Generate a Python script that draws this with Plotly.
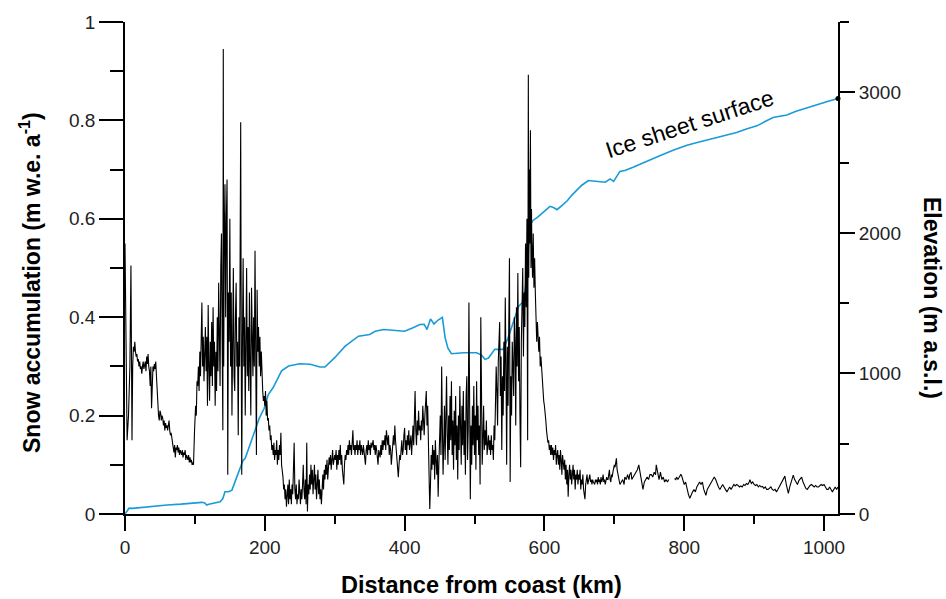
import plotly.graph_objects as go

# ---- Snow accumulation (m w.e. a^-1) along traverse ----
acc_km = [0,1.5,3,5,7,8.5,10,11,12,13,14,15,16,17,18,19,20,21,22,23,24,25,26,27,28,29,30,31,32,33,34,35,36,37,38,39,40,
41,42,43,44,45,46,47,48,49,50,51,52,53,54,55,56,57,58,59,60,61,62,63,64,65,66,67,68,69,70,71,72,73,74,75,76,77,78,79,80,
81,82,83,84,85,86,87,88,89,90,91,92,93,94,95,96,97,98,99.5,101,102,103,104,105,106,107,108,109,110,111,112,113,114,115,116,117,118,119,120,
121,122,123,124,125,126,127,128,129,130,131,132,133,134,135,136,137,138,139,140,140.6,141.2,142,143,144,145,146,147,148,149,150,
151,152,153,154,155,156,157,158,159,160,161,162,163,164,165.5,166.5,167,168,169,170,171,172,173,174,175,176,177,178,179,180,
181,182,183,184,185,186,187,188,189,190,191,192,193,194,195,196,197,198,199,200,201,202,203,204,205,206,207,208,209,210,
211,212,213,214,215,216,217,218,219,220,221,222,223,224,225,226,227,228,229,230,231,232,233,234,235,236,237,238,239,240,
241,242,243,244,245,246,247,248,249,250,251,252,253,254,255,256,257,258,259,260,261,262,263,264,265,266,267,268,269,270,
271,272,273,274,275,276,277,278,279,280,281,282,283,284,285,286,287,288,289,290,291,292,293,294,295,296,297,298,299,300,
301,302,303,304,305,306,307,308,309,310,311,312,313,314,315,316,317,318,319,320,321,322,323,324,325,326,327,328,329,330,
331,332,333,334,335,336,337,338,339,340,341,342,343,344,345,346,347,348,349,350,351,352,353,354,355,356,357,358,359,360,
361,362,363,364,365,366,367,368,369,370,371,372,373,374,375,376,377,378,379,380,381,382,383,384,385,386,387,388,389,390,
391,392,393,394,395,396,397,398,399,400,401,402,403,404,405,406,407,408,409,410,411,412,413,414,415,416,417,418,419,420,
421,422,423,424,425,426,427,428,429,430,431,432,433,434,435,436,437,438,439,440,441,442,443,444,445,446,447,448,449,450,
451,452,453,454,455,456,457,458,459,460,461,462,463,464,465,466,467,468,469,470,471,472,473,474,475,476,477,478,479,480,
481,482,483,484,485,486,487,488,489,490,491,492,493,494,495,496,497,498,499,500,501,502,503,504,505,506,507,508,509,510,
511,512,513,514,515,516,517,518,519,520,521,522,523,524,525,526,527,528,529,530,531,532,533,534,535,536,537,538,539,540,
541,542,543,544,545,546,547,548,549,550,551,552,553,554,555,556,557,558,559,560,561,562,563,564,565,566,567,568,569,570,
571,572,573,574,575,576,577,577.6,578.3,579,580,580.8,581.5,582,583,584,585,586,587,588,589,590,591,592,593,594,595,596,597,598,599,600,
601,602,603,604,605,606,607,608,609,610,611,612,613,614,615,616,617,618,619,620,621,622,623,624,625,626,627,628,629,630,
631,632,633,634,635,636,637,638,639,640,641,642,643,644,645,646,647,648,649,650,651,652,653,654,655,656,657,658,659,660,
661,662,663,664,665,666,667,668,669,670,671,672,673,674,675,676,677,678,679,680,681,682,683,684,685,686,687,688,689,690,
691,692,693,694,695,696,697,698,699,700,701,702,703,704,705,706,707,708,710,712,714,715,717,719,721,722,724,725,727,729,
731,733,735,737,739,741,743,745,747,749,751,753,755,757,759,760,762,764,766,768,770,772,774,776,778,782,
786,788,789,791,793,795,796,798,800,802,804,806,808,810,812,814,816,818,820,822,824,826,828,830,831,833,835,837,839,841,
843,845,847,849,851,853,855,857,859,861,863,865,867,869,871,873,875,877,879,881,883,885,887,889,891,893,894,896,898,900,
902,904,906,908,910,912,914,916,918,920,922,924,926,928,930,932,934,936,938,940,942,944,946,948,949,951,953,955,956,958,
960,962,964,966,968,970,972,974,976,978,980,982,984,986,988,990,992,994,996,998,1000,1002,1004,1006,1008,1010,1012,1014,1016,1018,1020]

acc_val = [0.55,0.35,0.15,0.20,0.30,0.505,0.15,0.30,0.34,0.33,0.35,0.33,0.32,0.325,0.31,0.315,0.30,0.31,0.295,0.30,0.285,0.30,0.31,0.295,0.30,0.31,0.29,0.32,0.305,0.325,0.30,0.29,0.26,0.30,0.215,0.28,0.30,
0.29,0.305,0.295,0.31,0.28,0.24,0.22,0.20,0.19,0.21,0.205,0.19,0.20,0.195,0.18,0.19,0.17,0.185,0.175,0.18,0.17,0.185,0.19,0.17,0.16,0.165,0.155,0.14,0.13,0.125,0.14,0.115,0.135,0.13,0.14,0.125,0.135,0.12,0.13,0.125,
0.12,0.13,0.115,0.125,0.12,0.13,0.11,0.12,0.115,0.11,0.12,0.105,0.115,0.105,0.11,0.10,0.105,0.10,0.17,0.22,0.20,0.27,0.26,0.30,0.25,0.33,0.28,0.38,0.43,0.30,0.36,0.27,0.32,0.38,0.29,0.36,0.22,0.425,0.30,
0.23,0.35,0.28,0.39,0.26,0.42,0.30,0.35,0.22,0.33,0.25,0.40,0.29,0.47,0.32,0.26,0.50,0.57,0.35,0.17,0.945,0.30,0.55,0.67,0.40,0.60,0.68,0.08,0.45,0.35,0.60,
0.30,0.45,0.20,0.40,0.50,0.28,0.25,0.40,0.47,0.30,0.35,0.16,0.40,0.30,0.796,0.25,0.08,0.35,0.52,0.30,0.40,0.20,0.35,0.50,0.28,0.38,0.25,0.45,0.30,0.20,
0.46,0.35,0.28,0.40,0.30,0.535,0.20,0.12,0.456,0.33,0.38,0.30,0.36,0.28,0.33,0.27,0.25,0.23,0.24,0.22,0.25,0.20,0.23,0.19,0.195,0.17,0.18,0.15,0.16,0.13,
0.14,0.12,0.145,0.11,0.13,0.12,0.15,0.10,0.13,0.11,0.14,0.12,0.165,0.10,0.09,0.075,0.05,0.06,0.03,0.05,0.015,0.04,0.06,0.02,0.07,0.03,0.05,0.02,0.06,0.04,
0.08,0.145,0.05,0.03,0.06,0.02,0.04,0.03,0.07,0.04,0.02,0.05,0.03,0.06,0.10,0.05,0.03,0.07,0.02,0.145,0.005,0.06,0.04,0.08,0.05,0.10,0.06,0.09,0.04,0.07,
0.10,0.05,0.08,0.03,0.06,0.09,0.04,0.07,0.03,0.05,0.02,0.06,0.08,0.05,0.09,0.07,0.10,0.08,0.11,0.07,0.09,0.115,0.10,0.12,0.09,0.11,0.13,0.10,0.12,0.12,
0.11,0.13,0.09,0.12,0.10,0.13,0.11,0.14,0.10,0.12,0.09,0.08,0.06,0.10,0.12,0.11,0.13,0.12,0.14,0.12,0.15,0.13,0.14,0.12,0.15,0.17,0.13,0.14,0.12,0.14,
0.13,0.15,0.12,0.14,0.13,0.15,0.12,0.14,0.13,0.12,0.14,0.13,0.12,0.10,0.13,0.14,0.12,0.15,0.13,0.14,0.12,0.145,0.135,0.14,0.15,0.13,0.14,0.12,0.14,0.13,
0.12,0.10,0.13,0.12,0.115,0.14,0.12,0.15,0.13,0.15,0.14,0.16,0.13,0.17,0.15,0.14,0.16,0.12,0.14,0.13,0.10,0.12,0.15,0.16,0.14,0.18,0.15,0.13,0.11,0.09,
0.075,0.10,0.12,0.11,0.13,0.15,0.12,0.13,0.16,0.175,0.13,0.15,0.12,0.16,0.14,0.17,0.13,0.14,0.16,0.12,0.15,0.18,0.14,0.20,0.25,0.17,0.14,0.19,0.16,0.21,
0.17,0.18,0.15,0.19,0.17,0.22,0.19,0.16,0.20,0.23,0.25,0.18,0.22,0.15,0.08,0.01,0.06,0.12,0.09,0.14,0.10,0.13,0.07,0.15,0.11,0.08,0.12,0.035,0.10,0.15,
0.20,0.12,0.30,0.18,0.08,0.14,0.22,0.11,0.18,0.28,0.16,0.10,0.20,0.13,0.24,0.15,0.27,0.12,0.19,0.09,0.21,0.14,0.24,0.11,0.18,0.07,0.20,0.13,0.26,0.16,
0.10,0.22,0.14,0.25,0.12,0.19,0.08,0.24,0.28,0.11,0.17,0.43,0.15,0.03,0.18,0.10,0.22,0.14,0.26,0.12,0.20,0.09,0.27,0.15,0.22,0.12,0.18,0.06,0.40,0.18,
0.10,0.15,0.22,0.13,0.17,0.14,0.19,0.12,0.14,0.16,0.13,0.15,0.12,0.16,0.13,0.14,0.11,0.18,0.15,0.22,0.30,0.25,0.18,0.31,0.375,0.39,0.24,0.32,0.13,0.28,
0.20,0.35,0.25,0.44,0.30,0.10,0.34,0.22,0.38,0.52,0.065,0.28,0.20,0.35,0.30,0.24,0.40,0.35,0.18,0.42,0.30,0.49,0.27,0.38,0.20,0.095,0.35,0.44,0.50,0.32,
0.45,0.38,0.55,0.42,0.60,0.15,0.893,0.48,0.70,0.55,0.78,0.50,0.62,0.55,0.48,0.57,0.46,0.52,0.45,0.40,0.35,0.39,0.37,0.33,0.36,0.30,0.32,0.29,0.27,0.25,0.23,0.22,
0.21,0.19,0.17,0.16,0.145,0.15,0.13,0.14,0.12,0.14,0.12,0.135,0.11,0.13,0.12,0.14,0.10,0.12,0.13,0.10,0.12,0.09,0.13,0.11,0.08,0.12,0.10,0.09,0.11,0.07,
0.10,0.06,0.09,0.035,0.08,0.10,0.07,0.09,0.06,0.08,0.10,0.07,0.09,0.05,0.08,0.07,0.09,0.06,0.08,0.07,0.09,0.05,0.07,0.06,0.08,0.05,0.04,0.03,0.06,0.07,
0.08,0.06,0.07,0.08,0.08,0.065,0.07,0.06,0.07,0.065,0.06,0.06,0.07,0.065,0.07,0.06,0.075,0.065,0.07,0.06,0.075,0.065,0.07,0.08,0.065,0.07,0.06,0.065,0.075,0.07,
0.07,0.08,0.09,0.07,0.065,0.08,0.075,0.085,0.09,0.10,0.095,0.105,0.113,0.09,0.08,0.07,0.065,0.06,0.065,0.07,0.06,0.075,0.07,0.08,0.07,0.08,0.085,0.07,0.075,0.08,
0.085,0.09,0.10,0.085,0.07,0.05,0.065,0.07,0.075,0.07,0.08,0.08,0.075,0.085,0.08,0.10,0.08,0.07,0.085,0.07,0.075,0.065,0.07,0.065,0.07,None,
0.072,0.07,0.075,0.07,0.075,0.08,0.079,0.07,0.06,0.065,0.05,0.04,0.032,0.04,0.045,0.05,0.045,0.055,0.06,0.065,0.06,0.065,0.05,0.04,0.038,0.05,0.055,0.06,0.065,0.07,
0.075,0.07,0.06,0.055,0.05,0.055,0.06,0.055,0.05,0.045,0.05,0.055,0.05,0.055,0.06,0.057,0.06,0.058,0.055,0.057,0.055,0.06,0.058,0.062,0.06,0.065,0.07,0.062,0.065,0.06,
0.058,0.06,0.055,0.058,0.055,0.056,0.052,0.055,0.05,0.05,0.052,0.055,0.05,0.048,0.05,0.045,0.05,0.055,0.06,0.065,0.07,0.077,0.06,0.045,0.042,0.055,0.065,0.072,0.079,0.07,
0.065,0.06,0.068,0.072,0.075,0.065,0.058,0.052,0.05,0.055,0.058,0.06,0.057,0.055,0.058,0.055,0.055,0.058,0.06,0.058,0.06,0.055,0.05,0.05,0.055,0.05,0.045,0.05,0.055,0.05,0.055]

# ---- Ice sheet surface elevation (m a.s.l.) ----
elev_km = [0,3,6,11,30,60,80,98,110,114,117,120,130,136,140,143,148,153,160,169,172,184,192,199,205,212,219,224,234,250,265,279,286,
300,315,334,350,358,370,385,400,412,422,428,432,437,442,448,454,458,462,467,484,503,510,515,520,529,541,548,556,563,570,575,579,
584,590,596,602,608,613,618,627,633,639,646,653,663,675,687,694,699,708,715,726,737,750,765,785,804,820,837,855,875,890,904,915,
927,937,947,960,975,990,1005,1020]
elev_val = [0,25,42,40,50,64,70,78,83,78,64,70,82,87,110,158,158,170,264,382,396,572,680,750,850,900,970,1018,1053,1069,1065,1046,1046,
1112,1194,1265,1277,1300,1312,1305,1300,1325,1348,1350,1312,1388,1352,1380,1399,1253,1180,1140,1147,1147,1130,1100,1110,1171,1171,1253,1370,1477,1512,1689,2054,
2090,2110,2137,2160,2189,2180,2165,2203,2230,2267,2300,2337,2372,2365,2360,2384,2366,2437,2444,2465,2490,2515,2549,2590,2624,2645,2667,2690,2714,2740,2761,2790,
2820,2830,2839,2865,2890,2910,2935,2956]

# ---- axis ticks ----
x_ticks = [0, 200, 400, 600, 800, 1000]
acc_ticks = [0, 0.2, 0.4, 0.6, 0.8, 1]
acc_tick_text = ["0", "0.2", "0.4", "0.6", "0.8", "1"]
elev_ticks = [0, 1000, 2000, 3000]
elev_tick_text = ["0", "1000", "2000", "3000"]

FONT = "Liberation Sans, Arial, sans-serif"
BLUE = "#1a9bd7"

fig = go.Figure()
# elevation on primary (right side) so that accumulation (overlay) draws above it
fig.add_trace(go.Scatter(x=elev_km, y=elev_val, mode="lines", line=dict(color=BLUE, width=1.6),
                         xaxis="x", yaxis="y", hoverinfo="skip", showlegend=False))
fig.add_trace(go.Scatter(x=[elev_km[-1]], y=[elev_val[-1]], mode="markers",
                         marker=dict(color="black", size=5), cliponaxis=False,
                         xaxis="x", yaxis="y", showlegend=False))
fig.add_trace(go.Scatter(x=acc_km, y=acc_val, mode="lines", line=dict(color="black", width=1.1),
                         connectgaps=False, xaxis="x", yaxis="y2", hoverinfo="skip", showlegend=False))

axis_common = dict(showgrid=False, zeroline=False, showline=True, linecolor="black", linewidth=1.8,
                   ticks="outside", tickcolor="black", tickwidth=1.8,
                   tickfont=dict(family=FONT, size=19, color="#222"))

fig.update_layout(
    width=946, height=599,
    margin=dict(l=125, r=108, t=19, b=85),
    paper_bgcolor="white", plot_bgcolor="white",
    xaxis=dict(range=[0, 1020], tickvals=x_ticks, ticklen=15,
               minor=dict(tickvals=[100, 300, 500, 700, 900], ticklen=8, ticks="outside",
                          tickcolor="black", tickwidth=1.8),
               **axis_common),
    yaxis=dict(range=[0, 3500], side="right", tickvals=elev_ticks, ticktext=elev_tick_text, ticklen=15,
               minor=dict(tickvals=[500, 1500, 2500, 3500], ticklen=9, ticks="outside",
                          tickcolor="black", tickwidth=1.8),
               **axis_common),
    yaxis2=dict(range=[0, 1], side="left", overlaying="y", tickvals=acc_ticks, ticktext=acc_tick_text,
                ticklen=24,
                minor=dict(tickvals=[0.1, 0.3, 0.5, 0.7, 0.9], ticklen=13, ticks="outside",
                           tickcolor="black", tickwidth=1.8),
                **axis_common),
    annotations=[
        dict(text="Distance from coast (km)", xref="paper", yref="paper", x=0.5, y=0,
             yshift=-71, xanchor="center", yanchor="middle", showarrow=False,
             font=dict(family=FONT, size=23.5, color="black", weight="bold")),
        dict(text="Snow accumulation (m w.e. a<sup>-1</sup>)", xref="paper", yref="paper",
             x=0, xshift=-95, y=0.5, yshift=-15, textangle=-90, xanchor="center", yanchor="middle",
             showarrow=False, font=dict(family=FONT, size=23, color="black", weight="bold")),
        dict(text="Elevation (m a.s.l.)", xref="paper", yref="paper",
             x=1, xshift=94, y=0.5, yshift=-30, textangle=90, xanchor="center", yanchor="middle",
             showarrow=False, font=dict(family=FONT, size=23, color="black", weight="bold")),
        dict(text="Ice sheet surface", xref="x", yref="y", x=807, y=2775, textangle=-18,
             xanchor="center", yanchor="middle", showarrow=False,
             font=dict(family=FONT, size=23, color="black")),
    ],
)

fig.write_html("out.html")
